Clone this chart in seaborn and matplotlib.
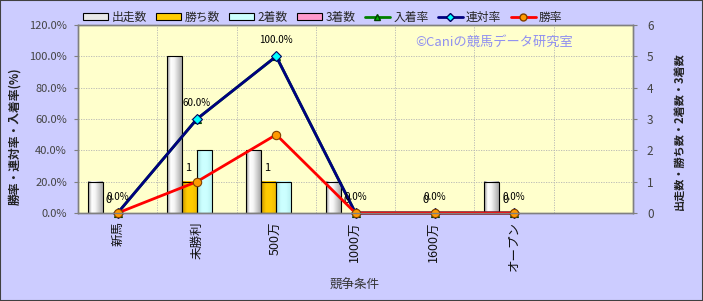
import numpy as np
import pandas as pd
import matplotlib
matplotlib.use("Agg")
import matplotlib.pyplot as plt
from matplotlib.colors import LinearSegmentedColormap
from matplotlib.patches import Patch, Rectangle
from matplotlib.lines import Line2D
import seaborn as sns

# ---------------- data ----------------
categories = ['新馬', '未勝利', '500万', '1000万', '1600万', 'オープン', '']
starts = [1, 5, 2, 1, 0, 1, np.nan]          # 出走数
wins = [0, 1, 1, 0, 0, 0, np.nan]            # 勝ち数
seconds = [0, 2, 1, 0, 0, 0, np.nan]         # 2着数
thirds = [0, 0, 0, 0, 0, 0, np.nan]          # 3着数
place_rate = [0, 60, 100, 0, 0, 0, np.nan]   # 入着率 (%)
rentai_rate = [0, 60, 100, 0, 0, 0, np.nan]  # 連対率 (%)
win_rate = [0, 20, 50, 0, 0, 0, np.nan]      # 勝率 (%)

bar_series = ['出走数', '勝ち数', '2着数', '3着数']
line_series = ['入着率', '連対率', '勝率']
left_ticks = [0, 20, 40, 60, 80, 100, 120]
right_ticks = [0, 1, 2, 3, 4, 5, 6]

# ---------------- style ----------------
sns.set_style("white")
plt.rcParams['font.family'] = ['Noto Sans CJK JP', 'DejaVu Sans']

BG = '#CCCCFF'
PLOT_BG = '#FFFFCC'
bar_colors = {'出走数': '#e8e8e8', '勝ち数': '#ffcc00', '2着数': '#ccffff', '3着数': '#ff99cc'}
bar_grads = {
    '出走数': ['#8c8c8c', '#ffffff', '#f4f4f4', '#cfcfcf', '#a8a8a8'],
    '勝ち数': ['#c89400', '#ffcc00', '#ffcc00', '#f0bc00'],
    '2着数': ['#a4dede', '#ccffff', '#ccffff', '#b8f0f0'],
    '3着数': ['#d87aa8', '#ff99cc', '#ff99cc', '#ee8cbc'],
}
line_style = {
    '入着率': dict(color='#008000', marker='^', mfc='#00b000', mec='#004000', ms=6),
    '連対率': dict(color='#000080', marker='D', mfc='#00ffff', mec='#000060', ms=5),
    '勝率': dict(color='#ff0000', marker='o', mfc='#ff9900', mec='#804000', ms=6),
}

W, H = 703, 301
fig = plt.figure(figsize=(W / 100, H / 100), dpi=100, facecolor=BG)
L, R, T, B = 78, 633, 25, 213
ax_bar = fig.add_axes([L / W, 1 - B / H, (R - L) / W, (B - T) / H])
ax_bar.set_facecolor(PLOT_BG)
ax_line = ax_bar.twinx()

# ---------------- bars ----------------
df_bars = pd.DataFrame({
    '競争条件': categories * 4,
    '系列': sum([[s] * len(categories) for s in bar_series], []),
    '値': starts + wins + seconds + thirds,
})
sns.barplot(data=df_bars, x='競争条件', y='値', hue='系列', order=categories,
            hue_order=bar_series, palette=bar_colors, width=0.75, errorbar=None,
            edgecolor='black', linewidth=0.8, ax=ax_bar, legend=False)

grad = np.linspace(0, 1, 64).reshape(1, -1)
for name, cont in zip(bar_series, ax_bar.containers):
    cmap = LinearSegmentedColormap.from_list('g_' + name, bar_grads[name])
    for p in cont.patches:
        h = p.get_height()
        if not np.isfinite(h) or h <= 0:
            p.set_visible(False)
            continue
        x0, w = p.get_x(), p.get_width()
        ax_bar.imshow(grad, extent=[x0, x0 + w, 0, h], aspect='auto', cmap=cmap,
                      interpolation='bilinear', zorder=p.get_zorder())
        p.set_facecolor('none')
        p.set_zorder(p.get_zorder() + 0.1)

# labels for 勝ち数
for p in ax_bar.containers[1].patches:
    h = p.get_height()
    if not np.isfinite(h):
        continue
    ax_bar.annotate(f"{h:.0f}", (p.get_x() + p.get_width() / 2, h),
                    xytext=(-1, 9.5), textcoords='offset points',
                    ha='center', va='center', fontsize=8, color='black',
                    annotation_clip=False)

# ---------------- lines ----------------
df_lines = pd.DataFrame({'競争条件': categories, '入着率': place_rate,
                         '連対率': rentai_rate, '勝率': win_rate})
line_objs = {}
for name in line_series:
    st = line_style[name]
    n_before = len(ax_line.lines)
    sns.pointplot(data=df_lines, x='競争条件', y=name, order=categories,
                  color=st['color'], markers=st['marker'], linestyles='-',
                  errorbar=None, ax=ax_line, linewidth=2, markersize=st['ms'])
    ln = ax_line.lines[n_before]
    ln.set_markerfacecolor(st['mfc'])
    ln.set_markeredgecolor(st['mec'])
    ln.set_markeredgewidth(0.8)
    ln.set_markersize(st['ms'])
    ln.set_linewidth(2)
    ln.set_clip_on(False)
    line_objs[name] = ln

# labels for 連対率
for x, y in line_objs['連対率'].get_xydata():
    if np.isfinite(y):
        ax_line.annotate(f"{y:.1f}%", (x, y), xytext=(0, 11.5), textcoords='offset points',
                         ha='center', va='center', fontsize=7, color='black',
                         annotation_clip=False)

# ---------------- axes ----------------
ax_bar.set_xlim(-0.5, len(categories) - 0.5)
ax_bar.set_ylim(0, 6)
ax_line.set_ylim(0, 120)

ax_bar.yaxis.tick_right()
ax_bar.yaxis.set_label_position('right')
ax_line.yaxis.tick_left()
ax_line.yaxis.set_label_position('left')

ax_bar.set_xticks(range(len(categories)))
ax_bar.set_xticklabels(categories, rotation=90, fontsize=9, color='#111111')
ax_bar.set_xticks(np.arange(-0.5, len(categories), 1), minor=True)
ax_bar.tick_params(axis='x', which='major', length=0, pad=6)
ax_bar.tick_params(axis='x', which='minor', length=3, color='#808080', direction='out')
ax_bar.set_xlabel('')
ax_bar.set_ylabel('')
ax_line.set_xlabel('')
ax_line.set_ylabel('')

ax_bar.set_yticks(right_ticks)
ax_bar.set_yticklabels([str(v) for v in right_ticks], fontsize=8.5, color='#444444')
ax_bar.tick_params(axis='y', which='major', length=3, color='#808080', pad=7, direction='out',
                   right=True, left=False, labelright=True, labelleft=False)

ax_line.set_yticks(left_ticks)
ax_line.set_yticklabels([f"{v:.1f}%" for v in left_ticks], fontsize=8, color='#444444')
ax_line.tick_params(axis='y', which='major', length=3, color='#808080', pad=5, direction='out',
                    left=True, right=False, labelleft=True, labelright=False)

ax_bar.set_axisbelow(True)
grid_kw = dict(color='#b4b4b4', linestyle=(0, (1.5, 1.5)), linewidth=0.6)
ax_bar.grid(axis='y', which='major', **grid_kw)
ax_bar.grid(axis='x', which='minor', **grid_kw)
ax_bar.grid(axis='x', which='major', visible=False)
ax_line.grid(False)

for a in (ax_bar, ax_line):
    for s in a.spines.values():
        s.set_color('#808080')
        s.set_linewidth(1)

# ---------------- texts ----------------
fig.text(15 / W, 1 - 136 / H, '勝率・連対率・入着率(%)', rotation=90, ha='center', va='center',
         fontsize=8.5, fontweight='bold', color='#222222')
fig.text(679 / W, 1 - 131 / H, '出走数・勝ち数・2着数・3着数', rotation=90, ha='center', va='center',
         fontsize=8, fontweight='bold', color='#222222')
fig.text(355 / W, 1 - 285 / H, '競争条件', ha='center', va='center', fontsize=9, color='#333333')
fig.text(415 / W, 1 - 42 / H, '©Caniの競馬データ研究室', ha='left', va='center',
         fontsize=9.5, color='#9090f0')

# ---------------- legend ----------------
handles = [Patch(facecolor=bar_colors[s], edgecolor='black', linewidth=0.8) for s in bar_series]
for name in line_series:
    st = line_style[name]
    handles.append(Line2D([], [], color=st['color'], lw=2, marker=st['marker'],
                          mfc=st['mfc'], mec=st['mec'], ms=st['ms'] - 1))
fig.legend(handles, bar_series + line_series, loc='center left',
           bbox_to_anchor=(83 / W, 1 - 17 / H), ncol=7, frameon=False,
           fontsize=8.5, handlelength=2.1, handleheight=0.6, handletextpad=0.3,
           columnspacing=0.8, borderpad=0, borderaxespad=0)

fig.patches.append(Rectangle((0, 0), 1, 1, transform=fig.transFigure, fill=False,
                             edgecolor='#404040', linewidth=1.5, zorder=10))

fig.savefig('out.png', dpi=100, facecolor=BG)
